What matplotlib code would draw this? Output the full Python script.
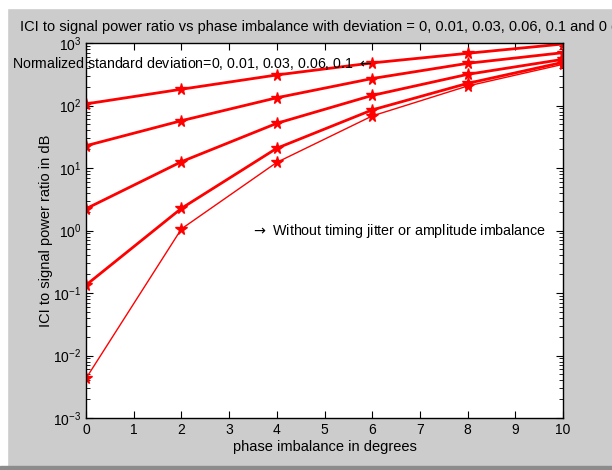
import numpy as np
import matplotlib.pyplot as plt
from matplotlib.patches import Rectangle
from matplotlib.ticker import LogLocator, FixedLocator

plt.rcParams['font.family'] = ['Liberation Sans', 'DejaVu Sans']

# phase imbalance in degrees
phase = [0, 2, 4, 6, 8, 10]

# ICI to signal power ratio, one list per normalized standard deviation
dev_010 = [106, 182, 308, 480, 684, 964]
dev_006 = [22.7, 57.1, 133, 270, 473, 700]
dev_003 = [2.23, 12.6, 51.9, 145, 315, 548]
dev_001 = [0.134, 2.26, 20.7, 85, 226, 491]
dev_000 = [0.0043, 1.06, 12.3, 68, 205, 456]

fig = plt.figure(figsize=(6.12, 4.70), dpi=100, facecolor='#cccccc')

# screenshot frame: white edge top/left, darker line at the bottom
fig.patches.append(Rectangle((0, 1 - 8 / 470), 1, 8 / 470, transform=fig.transFigure,
                             color='white', zorder=0))
fig.patches.append(Rectangle((0, 0), 7 / 612, 1, transform=fig.transFigure,
                             color='white', zorder=0))
fig.patches.append(Rectangle((0, 0), 1, 4 / 470, transform=fig.transFigure,
                             color='#8c8c8c', zorder=0))

ax = fig.add_axes([86 / 612, 52 / 470, 477 / 612, 375 / 470])

for ys in [dev_010, dev_006, dev_003, dev_001]:
    ax.semilogy(phase, ys, '-*', color='red', lw=2, ms=8.5, mew=1)
ax.semilogy(phase, dev_000, '-*', color='red', lw=1, ms=8.5, mew=1)

ax.set_xlim(0, 10)
ax.set_ylim(1e-3, 1e3)
ax.xaxis.set_major_locator(FixedLocator(range(11)))
ax.yaxis.set_major_locator(LogLocator(base=10, numticks=10))
ax.yaxis.set_minor_locator(LogLocator(base=10, subs=np.arange(2, 10), numticks=10))
ax.tick_params(which='both', direction='in', top=True, right=True, labelsize=10)
ax.tick_params(which='major', length=5, width=0.8)
ax.tick_params(which='minor', length=3, width=0.6)
for s in ax.spines.values():
    s.set_linewidth(1)

ax.set_title('ICI to signal power ratio vs phase imbalance with deviation = 0, 0.01, 0.03, 0.06, 0.1 and 0 dB',
             fontsize=10.5, pad=9)
ax.set_xlabel('phase imbalance in degrees', fontsize=10.5, labelpad=2)
ax.set_ylabel('ICI to signal power ratio in dB', fontsize=10.5, labelpad=0)

ax.text(6, 470, r'Normalized standard deviation=0, 0.01, 0.03, 0.06, 0.1 $\leftarrow$',
        ha='right', va='center', fontsize=10.2, clip_on=False)
ax.text(3.45, 1.0, r'$\rightarrow$ Without timing jitter or amplitude imbalance',
        ha='left', va='center', fontsize=10.3)

fig.savefig('out.png', dpi=100, facecolor=fig.get_facecolor())
